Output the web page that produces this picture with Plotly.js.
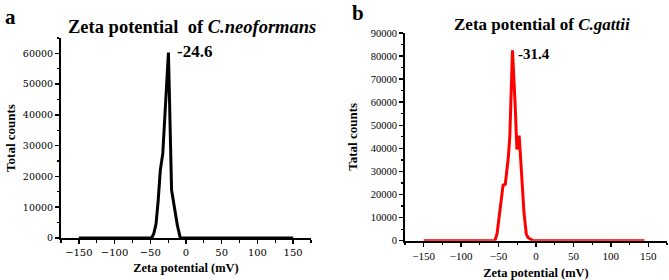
<!DOCTYPE html>
<html>
<head>
<meta charset="utf-8">
<script src="https://cdn.plot.ly/plotly-3.0.1.min.js"></script>
<style>html,body{margin:0;padding:0;background:#fff;}#chart{width:669px;height:280px;}</style>
</head>
<body>
<div id="chart"></div>
<script>
// C. neoformans zeta potential distribution
const neoX = [-150, -48, -45, -42, -39, -36, -32.5, -28.5, -24.6, -20.2, -16, -12, -8, 150];
const neoY = [0, 0, 1500, 4500, 12000, 22000, 27500, 43000, 60300, 15600, 9500, 4000, 0, 0];
// C. gattii zeta potential distribution
const gatX = [-150, -55, -52, -49, -46, -44, -41, -39, -37, -35, -31.4, -28, -25.5, -24, -22.5, -21, -18, -16, -13, -11, -8, -4, 145];
const gatY = [0, 0, 3000, 12000, 21000, 24000, 24500, 30000, 36000, 45000, 82500, 60000, 39500, 44000, 45500, 38000, 22000, 12000, 3000, 1500, 800, 0, 0];
const neoPeakLabel = "-24.6";
const gatPeakLabel = "-31.4";
const xTicks = [-150, -100, -50, 0, 50, 100, 150];

const serif = "'Liberation Serif', 'Times New Roman', serif";
const wideSerif = "'DejaVu Serif', serif";

const traces = [
  {x: neoX, y: neoY, type: 'scatter', mode: 'lines', line: {color: '#000', width: 3}, xaxis: 'x', yaxis: 'y', hoverinfo: 'skip'},
  {x: gatX, y: gatY, type: 'scatter', mode: 'lines', line: {color: '#ff0000', width: 3}, xaxis: 'x2', yaxis: 'y2', hoverinfo: 'skip'}
];

function xax(domain, anchor, fontFam, fontSize, standoff) {
  return {
    domain: domain, anchor: anchor, range: [-175, 175],
    tickmode: 'array', tickvals: xTicks, ticktext: xTicks.map(v => v < 0 ? '\u2212' + Math.abs(v) : String(v)),
    ticks: 'outside', ticklen: 4, tickwidth: 1.5, tickcolor: '#000',
    minor: {ticks: 'outside', dtick: 25, tick0: -175, ticklen: 2.5, tickwidth: 1.2, tickcolor: '#000'},
    showline: true, linewidth: 2, linecolor: '#000', zeroline: false, showgrid: false,
    tickfont: {family: fontFam, size: fontSize, color: '#000'},
    title: {text: '<b>Zeta potential (mV)</b>', font: {family: serif, size: 12.5, color: '#000'}, standoff: standoff},
    automargin: false, fixedrange: true
  };
}
function yax(domain, anchor, range, fontFam, fontSize, titleText, standoff) {
  return {
    domain: domain, anchor: anchor, range: range,
    tickmode: 'linear', tick0: 0, dtick: 10000, tickformat: 'd',
    ticks: 'outside', ticklen: 4, tickwidth: 1.5, tickcolor: '#000',
    minor: {ticks: 'outside', dtick: 5000, ticklen: 2.5, tickwidth: 1.2, tickcolor: '#000'},
    showline: true, linewidth: 2, linecolor: '#000', zeroline: false, showgrid: false,
    tickfont: {family: fontFam, size: fontSize, color: '#000'},
    title: {text: '<b>' + titleText + '</b>', font: {family: serif, size: 13, color: '#000'}, standoff: standoff},
    automargin: false, fixedrange: true
  };
}

const layout = {
  width: 669, height: 280,
  margin: {l: 0, r: 0, t: 0, b: 0},
  paper_bgcolor: '#fff', plot_bgcolor: '#fff',
  showlegend: false,
  xaxis: xax([61/669, 311/669], 'y', wideSerif, 10, 6),
  yaxis: yax([1 - 238/280, 1 - 38/280], 'x', [0, 65000], wideSerif, 9.5, 'Total counts', 4),
  xaxis2: xax([405/669, 667/669], 'y2', serif, 11, 10),
  yaxis2: yax([1 - 240.7/280, 1 - 33/280], 'x2', [0, 90000], serif, 10.5, 'Tatal counts', 10),
  annotations: [
    {text: '<b>a</b>', xref: 'paper', yref: 'paper', x: 3/669, y: 1 - 17/280, xanchor: 'left', yanchor: 'middle', showarrow: false, font: {family: serif, size: 21, color: '#000'}},
    {text: '<b>b</b>', xref: 'paper', yref: 'paper', x: 350/669, y: 1 - 13/280, xanchor: 'left', yanchor: 'middle', showarrow: false, font: {family: serif, size: 21, color: '#000'}},
    {text: '<b>Zeta potential  of <i>C.neoformans</i></b>', xref: 'paper', yref: 'paper', x: 192/669, y: 1 - 27/280, xanchor: 'center', yanchor: 'middle', showarrow: false, font: {family: serif, size: 18.5, color: '#000'}},
    {text: '<b>Zeta potential of <i>C.gattii</i></b>', xref: 'paper', yref: 'paper', x: 542/669, y: 1 - 24/280, xanchor: 'center', yanchor: 'middle', showarrow: false, font: {family: serif, size: 17, color: '#000'}},
    {text: '<b>' + neoPeakLabel + '</b>', xref: 'x', yref: 'y', x: Number(neoPeakLabel), y: Math.max(...neoY), xanchor: 'left', yanchor: 'middle', xshift: 7, yshift: 1, showarrow: false, font: {family: serif, size: 17, color: '#000'}},
    {text: '<b>' + gatPeakLabel + '</b>', xref: 'x2', yref: 'y2', x: Number(gatPeakLabel), y: Math.max(...gatY), xanchor: 'left', yanchor: 'middle', xshift: 4, yshift: -4, showarrow: false, font: {family: serif, size: 15, color: '#000'}}
  ]
};

Plotly.newPlot('chart', traces, layout, {staticPlot: true, displayModeBar: false});
</script>
</body>
</html>
